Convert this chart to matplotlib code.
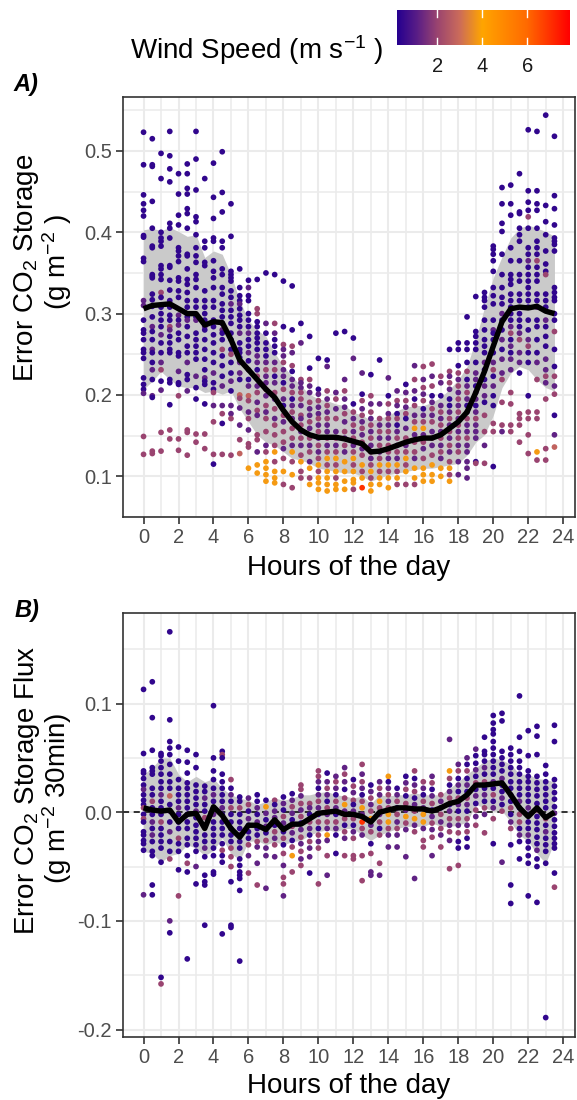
import numpy as np
import matplotlib
matplotlib.use('Agg')
import matplotlib.pyplot as plt
from matplotlib.colors import LinearSegmentedColormap, Normalize

plt.rcParams['font.family'] = ['Liberation Sans', 'DejaVu Sans']
plt.rcParams['mathtext.fontset'] = 'custom'
plt.rcParams['mathtext.rm'] = 'Liberation Sans'
plt.rcParams['mathtext.it'] = 'Liberation Sans:italic'
plt.rcParams['mathtext.bf'] = 'Liberation Sans:bold'

# ---------------- data ----------------
HOURS = np.arange(0, 24, 0.5)          # 48 half-hour bins
X_TICKS = [0, 2, 4, 6, 8, 10, 12, 14, 16, 18, 20, 22, 24]
A_YTICKS = [0.1, 0.2, 0.3, 0.4, 0.5]
B_YTICKS = [-0.2, -0.1, 0.0, 0.1]
WIND_TICKS = [2, 4, 6]
WIND_RANGE = (0.22, 7.9)

WIND_CODES = {'b': 0.4, 'p': 1.2, 'm': 2.0, 's': 2.8, 'o': 3.8, 'r': 7.0}

# Panel A points, one string per half hour: value in 1/1000 g m-2 + wind code
A_POINTS = [
    "523b 483b 446b 435b 427b 420b 396b 394b 368b 364b 316p 310p 292b 280b 276b 268b 256b 252b 245b 221b 213b 207b 202p 149m 127m",
    "515b 483b 481b 438b 405b 383b 381b 348b 346b 344b 324b 317b 309b 296b 284p 278b 268b 256p 252b 240b 231p 219b 199p 197b 131m 128m",
    "497b 466b 400b 393b 389b 383b 359b 355b 348b 342b 326m 320b 308b 300b 292b 284b 274p 264b 252b 240p 231m 217b 206p 154m 131m",
    "524b 494b 478b 462b 411b 405b 393b 359b 357b 341b 329b 316b 308b 298b 292b 284m 280p 272b 264b 256b 252b 219b 215b 188b 157m 146m",
    "472b 447b 421b 409b 381b 377b 371b 364b 344b 340b 328b 320b 298p 292b 286p 276b 268b 252b 248b 229p 215b 213b 199m 146m 132m",
    "484b 472b 454b 447b 429b 423b 405b 373b 371b 355b 342b 336b 326b 316b 308b 296b 292p 284b 272b 260b 252b 240p 225b 219b 205p 157m 154m 126m",
    "524b 490b 452b 419b 413b 397b 381b 371b 363b 348b 342b 332b 316b 308b 296b 292p 276b 268b 260b 252b 244b 223p 209b 195b 152m 142m",
    "466b 389b 381b 363b 359b 328b 316b 308b 300b 292b 284p 280b 268b 256b 244b 231b 221p 217b 213b 189b 152m 134m",
    "485b 443b 417b 393b 389b 365b 352b 344b 332b 316b 308b 292b 284b 274b 264b 252b 240b 227p 215b 207b 203m 187p 167m 127m 115b",
    "499b 449b 425b 389b 381b 355b 348b 332b 324b 312b 304b 296b 288b 280p 276b 268b 256m 248b 236b 223b 211p 187p 177m 165b 127m",
    "435b 395b 352b 348b 344b 340b 328b 320b 312p 304b 296b 288b 276b 268b 256b 250m 240b 227b 217p 205b 187p 177p 171m 126m",
    "355b 332b 322b 316b 312p 306b 298b 292b 284b 276p 264b 256b 252b 246b 240p 227p 219b 200s 196m 184p 163p 145m 128s",
    "341b 332p 322b 316b 300b 292b 284b 276p 268b 260b 252p 242b 231p 219b 211p 199s 193m 179p 171m 157p 140m 136m 110o",
    "342b 306m 300m 290b 284b 276b 270b 264b 256b 248p 240p 231b 223m 211p 203m 191p 181m 175p 151m 145m 130p 114o 104o",
    "350b 288p 276b 264b 256b 248b 240p 231m 223p 215p 207m 199p 187m 179p 171m 155m 138p 130m 118o 110o 102o 094o",
    "348b 288m 276p 268b 260b 252b 240p 231m 223b 215p 203m 195p 183m 171p 163m 151m 138m 130o 118m 106o 098o 092o",
    "340b 284b 262m 256p 248p 240m 231p 223p 215b 207m 195p 187b 175m 167p 155m 142m 134p 122m 106o 090m",
    "334b 280b 260m 252p 236m 229b 219p 211p 203m 195b 187p 179m 171p 159m 147m 138p 130o 118m 102o 086m",
    "288b 264p 219m 215p 209p 203m 195m 187p 175m 171p 163m 155p 147m 138p 126m 118o 106m 098m",
    "272b 233b 219m 211p 203p 191m 183p 175p 167m 159p 147m 138p 130m 118p 110o 098m 090o",
    "245b 207b 201p 193m 185p 177p 171m 163p 155m 147p 138m 130p 122m 114o 106m 098o 092o 084o",
    "243b 235p 205m 195p 187m 179p 171m 163p 155p 147m 138p 130m 122o 114m 106o 098o 090o 082o",
    "276b 203p 195m 183p 171m 155p 147m 138p 130m 122o 114m 106o 098m 090o 084o",
    "278b 219p 205m 195p 185p 177m 167p 155m 147p 138m 130p 118o 106o 094o 084o",
    "270b 245p 189b 179m 171p 163m 155p 147m 138p 130m 122o 114m 106o 096o 092o 084m",
    "227p 201b 193m 183p 175m 167p 159m 151p 142m 134p 126m 114o 106m 098o 086r",
    "225b 199m 189p 179m 171p 163m 155p 147m 138p 130m 122p 114m 106o 098m 090o 082o",
    "243b 189p 171m 163p 155m 147p 138m 130p 122m 114o 106m 098o 090o",
    "221p 199b 189m 177p 171m 163p 155m 147p 138m 130m 122p 114o 106m 098o 086o",
    "205p 193m 187p 177b 171m 163b 155p 147m 138p 130m 122p 114o 106m 098o 090m",
    "213b 203p 193m 185p 177m 171b 159p 147m 138p 130m 122o 114m 106o 090m",
    "236p 219m 205p 195b 187m 175p 167m 159o 151p 142m 130m 122p 110o 098o 090m",
    "235m 219p 209m 201p 193m 183b 175p 167m 159o 151p 142m 134p 122m 110o 102o 094o",
    "238m 223p 211m 199b 191p 183m 175p 167m 155p 147m 138p 126m 114o 102o 094o",
    "223m 215p 199b 187p 179m 171p 163m 155p 147m 138p 130m 122p 110o 100o",
    "256b 229m 223p 215m 207p 195b 187b 179p 171m 163p 155m 147p 138m 130p 118m 110o 102m 094o",
    "264b 256b 236b 227m 219p 211m 203p 195m 187p 179m 171p 163m 155p 147m 138p 130m 118p 102p",
    "296b 264b 256b 240b 229m 219b 211p 203m 195p 187b 179p 171m 163p 155p 147m 138p 130p 118p 110p 098p",
    "321b 278b 272b 264b 256b 240b 227p 219p 211b 203p 195p 187b 179p 171m 163p 155p 147p 118b 116m",
    "326b 320b 316b 308b 292b 280b 268b 260b 252b 240p 231b 219b 211p 199p 191b 175m 155m 138p 116m",
    "383b 379b 373b 365b 352b 332b 322b 312b 292b 280p 276b 268b 252b 240p 231m 223b 211p 199b 187b 165m 155m 112b",
    "455b 435b 411b 401b 373b 348b 332b 320b 312b 300p 292b 280b 268p 256b 244p 227p 219m 191m 163m 155p",
    "458b 435b 421b 381b 365b 348b 342b 336b 324b 316b 308b 300b 292b 284p 276m 268b 260p 252b 244p 231p 203m 189m 163m 155m",
    "472b 425b 423b 405b 397b 389b 365b 348b 340b 324b 316b 300b 292b 284b 276p 268m 252p 240p 227b 177m 171m 163m 142m",
    "526b 451b 437b 427b 419m 405b 381b 373b 365p 357b 348b 340b 332b 324b 316b 308b 292b 280b 268p 260m 252b 240b 199b 179m 171m 151m 128m",
    "524b 451b 435b 427b 405b 389b 381b 373b 365m 357b 348b 340b 324b 316b 308p 292b 284b 268b 252b 240p 219m 179m 171m 130o 120m",
    "544b 433b 413b 397b 377b 361b 352b 348m 324b 316b 308b 292p 284b 272b 260b 244p 231p 223m 215p 195m 134m 120m",
    "518b 445b 429b 409b 393b 389b 385b 377b 332b 326b 320b 316b 300b 292b 278m 256b 235b 223m 211p 201m 175b 151p 136s",
]
A_MEAN = [.306, .310, .311, .312, .306, .300, .300, .286, .290, .289, .268, .243, .231, .219, .207, .197,
          .181, .167, .157, .151, .148, .148, .148, .146, .143, .140, .130, .131, .134, .138, .142, .145,
          .147, .147, .151, .159, .167, .179, .203, .229, .260, .290, .306, .308, .307, .309, .303, .300]
A_HI = [.403, .405, .402, .406, .401, .395, .397, .369, .377, .373, .348, .316, .292, .280, .272, .252,
        .235, .223, .211, .201, .195, .193, .189, .187, .179, .175, .169, .171, .175, .181, .185, .187,
        .187, .191, .197, .207, .219, .235, .268, .308, .344, .370, .393, .405, .409, .405, .401, .395]
A_LO = [.207, .217, .229, .219, .211, .209, .209, .203, .205, .201, .205, .183, .167, .151, .142, .138,
        .130, .122, .120, .116, .110, .108, .106, .104, .104, .100, .094, .098, .102, .104, .106, .108,
        .110, .110, .112, .114, .116, .126, .142, .151, .175, .209, .227, .235, .231, .219, .209, .205]

# Panel B points: value in 1/1000 g m-2 30min + wind code
B_POINTS = [
    "113b 054b 038b 036b 031b 025b 021p 016b 011b 007b 004m -002b -006m -009b -018b -021b -026b -029b -035b -076p",
    "120b 087b 057b 041b 038b 035b 022b 016b 010m 004b -002b -009p -015b -021p -027b -036b -040b -067b -076b",
    "054b 052b 047b 041b 035b 028b 022b 016p 010b 004b -002b -009m -015b -021b -027b -033b -046b -152b -158m",
    "166b 085b 065b 059b 053b 044b 035b 028b 022b 015s 007b 001p -009b -018p -027b -036b -043m -100p -111b",
    "060b 047b 030b 022b 016b 010b 004p -002b -009b -015b -024m -029b -036b -053b -077m",
    "057b 046b 036b 027b 022b 016b 010b 004b -002b -009b -015b -024b -030b -040b -047m -055b -135b",
    "053b 041b 025b 019b 013b 007b 001p -005b -012b -018b -024b -030b -036b -050p -066b",
    "024b 019b 013p 007b 001b -005m -012b -021b -027b -033p -041b -058b -064b -067b -104b",
    "098b 050b 038b 030b 022b 016p 010b 004b -002p -009b -015b -021b -027b -033b -040b -055b -057b",
    "056b 053m 050b 035b 028b 022b 016b 010b 004p -002b -009b -015b -021b -029b -035m -040b -046b -112b",
    "030m 022b 016p 010b 004m -002b -009b -015b -021b -027b -033m -041m -050m -064b -104b -106b",
    "014b 010b 004m -002b -009b -015b -021p -027b -033b -043b -049b -055b -058b -061b -072b -137b",
    "013p 007m 001b -006p -012b -018b -024b -030m -040p -056m",
    "016b 010b 004p -002b -009p -015b -021b -027m -032p -047p -067m",
    "011b 005o -001p -007b -013p -019b -026m -033p -040p -070p",
    "011m 007b 001p -005p -012b -018m -024p -030m -041p",
    "014b 008p 002b -004m -010p -018b -024m -030b -038m -049p -060m -066m -077p",
    "017b 011p 005m -001p -007b -013m -019p -026b -032m -040o -055m",
    "025m 021m 015p 008m 002p -004m -010b -016p -023m -029p -036m -043p -049m",
    "008m 004p -002b -009m -015p -021b -027m -033p -041p -056b",
    "038m 033m 028p 022b 016p 010m 004p -002b -009m -015b -021m -027p -033m -066m",
    "036b 028p 022m 016p 010b 004m -002p -009m -015p -021o -026p -040m -058p",
    "033p 028m 022p 016b 010m 004p -002b -009m -015p -021b -038b",
    "041p 035m 028p 021b 013m 007o 001p -006m -012b -018m -024p -040m",
    "030b 024m 018p 011m 007b 001p -006m -012b -018p -024m -040m -043m",
    "044m 035p 028m 022p 016b 010m 004o -002p -009r -015m -021p -040m -063m",
    "025b 019p 013m 007p 001m -006o -012p -018m -029b -038m -055p -058p",
    "028p 022m 016p 010o 004m -002p -009m -015b -021m -047m -058p",
    "033o 028b 022p 016m 010p 004m -002o -009o -015m -021p -032p",
    "022b 016p 010m 004b -002m -009p -015m -021p -032p",
    "033b 027p 021m 015b 008m 002p -004o -010m -016p -041p",
    "038m 031b 025p 019m 013b 007p 001m -006o -012p -018m -061p",
    "028m 022p 016b 010m 004p -002o -009o -015p -026m -032m",
    "033p 027m 021b 015p 008m 002b -004p -010m -016p -023m -040p",
    "016m 010p 004b -002m -009p -015m -021p -032m",
    "067p 038o 031m 025b 019p 013m 007b 001p -006m -012p -018m -026p -052m",
    "044p 038m 031b 025p 019b 013m 007p 001b -006m -012p -019m -027b -033b -049m",
    "050p 044b 038m 031b 025p 019b 013m 007p 001b -006m -012p -018m -024b -032b",
    "058p 052b 045b 039p 033b 027m 021b 015p 008b 002m -004p -012m",
    "069b 056b 053b 047b 041p 035b 028m 022b 016p 010b 004m -002p -019m",
    "089b 082b 076b 072b 065b 059b 053b 047b 041b 035b 028p 022b 016m 010b 004p -006m -029b",
    "091b 084b 056b 050b 044b 038b 031p 025b 019b 013p 007b 001m -046p",
    "059b 053b 047b 041b 035b 028b 022b 016p 010b 004m -002b -009p -015m -030b -067b -084b",
    "107b 069b 056b 047b 041b 035b 028b 022b 016b 010p 004b -002m -009m -015b -021p -027b -043b",
    "075b 052b 038b 033b 028b 022b 016b 010b 004p -002b -009b -015b -021p -027b -033b -040b -047b -077b",
    "079b 070b 053b 033b 027b 021b 015b 008b 002m -004b -010b -016b -023b -029b -035p -043b -050b -083b",
    "043b 035b 028b 022b 016b 010b 004b -006m -012b -018p -024b -030b -036b -047b -189b",
    "080b 065b 030b 024b 018b 012b 005b -001p -007b -013b -019b -024b -029b -033b -056b -069m",
]
B_MEAN = [.004, .002, .001, .002, -.009, -.002, -.001, -.015, .005, -.003, -.015, -.023, -.012, -.012, -.016, -.007,
          -.016, -.011, -.011, -.006, -.001, .000, .001, -.002, -.002, -.004, -.009, .000, .002, .004, .004, .003,
          .003, .001, .004, .008, .010, .016, .025, .025, .026, .027, .016, .004, -.004, .004, -.005, .000]
B_HI = [.035, .041, .050, .050, .035, .028, .033, .028, .031, .022, .016, .013, .011, .007, .010, .013,
        .011, .013, .016, .016, .018, .019, .016, .015, .013, .015, .008, .016, .015, .016, .016, .018,
        .016, .016, .016, .022, .028, .035, .041, .047, .050, .048, .044, .035, .035, .031, .030, .028]
B_LO = [-.036, -.038, -.046, -.040, -.038, -.030, -.033, -.040, -.035, -.024, -.038, -.044, -.027, -.026, -.030, -.027,
        -.030, -.027, -.026, -.021, -.018, -.016, -.018, -.015, -.015, -.021, -.026, -.021, -.018, -.015, -.013, -.013,
        -.013, -.010, -.013, -.013, -.012, -.009, .007, .004, .001, .001, -.009, -.021, -.027, -.038, -.047, -.027]


def parse(columns):
    xs, ys, ws = [], [], []
    for h, s in zip(HOURS, columns):
        for tok in s.split():
            xs.append(h)
            ys.append(int(tok[:-1]) / 1000.0)
            ws.append(WIND_CODES[tok[-1]])
    return np.array(xs), np.array(ys), np.array(ws)


# ---------------- style ----------------
W, H = 577, 1100
vmin, vmax = WIND_RANGE


def pos(v):
    return (v - vmin) / (vmax - vmin)


cmap = LinearSegmentedColormap.from_list(
    'wind', [(0.0, '#26008f'), (pos(1.1), '#5a1e86'), (pos(2.0), '#9a4470'), (pos(3.0), '#cc6c5a'),
             (pos(4.0), '#ffa500'), (pos(6.0), '#ff6a00'), (1.0, '#ff0000')])
norm = Normalize(vmin=vmin, vmax=vmax)

TICK_FS = 14.5
TITLE_FS = 20
GRID_C = '#ebebeb'
FRAME_C = '#333333'
PT_SIZE = 17


def px(x):
    return x / W


def py(y):
    return 1 - y / H


fig = plt.figure(figsize=(W / 100, H / 100), dpi=100)
axA = fig.add_axes([px(123), py(517), px(575) - px(123), py(97) - py(517)])
axB = fig.add_axes([px(123), py(1036.5), px(575) - px(123), py(613) - py(1036.5)])


def style_axis(ax, yticks, yminor, ylim):
    ax.set_xlim(-1.175, 24.675)
    ax.set_ylim(*ylim)
    ax.set_xticks(X_TICKS)
    ax.set_xticks(np.arange(1, 24, 2), minor=True)
    ax.set_yticks(yticks)
    ax.set_yticks(yminor, minor=True)
    ax.set_axisbelow(True)
    ax.grid(which='major', color=GRID_C, lw=1.5, zorder=0)
    ax.grid(which='minor', color=GRID_C, lw=1.1, zorder=0)
    ax.tick_params(which='major', length=5, width=1.2, color=FRAME_C, labelsize=TICK_FS,
                   labelcolor='#4d4d4d', pad=3)
    ax.tick_params(which='minor', length=0)
    for sp in ax.spines.values():
        sp.set_color(FRAME_C)
        sp.set_linewidth(1.2)


# Panel A
xa, ya, wa = parse(A_POINTS)
axA.fill_between(HOURS, A_LO, A_HI, color='#cacaca', lw=0, zorder=1)
axA.scatter(xa, ya, c=wa, cmap=cmap, norm=norm, s=PT_SIZE, linewidths=0, zorder=2)
axA.plot(HOURS, A_MEAN, color='black', lw=3.9, zorder=3, solid_capstyle='butt')
style_axis(axA, A_YTICKS, [0.05, 0.15, 0.25, 0.35, 0.45, 0.55], (0.0572, 0.5663))
axA.set_yticklabels(['0.1', '0.2', '0.3', '0.4', '0.5'])

# Panel B
xb, yb, wb = parse(B_POINTS)
axB.fill_between(HOURS, B_LO, B_HI, color='#cacaca', lw=0, zorder=1)
axB.axhline(0, color='black', lw=1.1, ls=(0, (4, 3)), zorder=1.5)
axB.scatter(xb, yb, c=wb, cmap=cmap, norm=norm, s=PT_SIZE, linewidths=0, zorder=2)
axB.plot(HOURS, B_MEAN, color='black', lw=3.9, zorder=3, solid_capstyle='butt')
style_axis(axB, B_YTICKS, [-0.15, -0.05, 0.05, 0.15], (-0.2064, 0.1833))
axB.set_yticklabels(['-0.2', '-0.1', '0.0', '0.1'])

# axis titles
for yc in (568, 1086):
    fig.text(px(349), py(yc), 'Hours of the day', ha='center', va='center', fontsize=TITLE_FS)

fig.text(px(27), py(268), r'Error CO$_2$ Storage', rotation=90, ha='center', va='center', fontsize=TITLE_FS)
fig.text(px(57), py(262), r'(g m$^{-2}$ )', rotation=90, ha='center', va='center', fontsize=TITLE_FS)
fig.text(px(27), py(790), r'Error CO$_2$ Storage Flux', rotation=90, ha='center', va='center', fontsize=TITLE_FS)
fig.text(px(57), py(798), r'(g m$^{-2}$ 30min)', rotation=90, ha='center', va='center', fontsize=TITLE_FS)

fig.text(px(26), py(84), 'A)', ha='center', va='center', fontsize=17, fontweight='bold', fontstyle='italic')
fig.text(px(27), py(610), 'B)', ha='center', va='center', fontsize=17, fontweight='bold', fontstyle='italic')

# colour bar legend
cax = fig.add_axes([px(397), py(45), px(570) - px(397), py(10) - py(45)])
grad = np.linspace(vmin, vmax, 400).reshape(1, -1)
cax.imshow(grad, aspect='auto', cmap=cmap, norm=norm, extent=[vmin, vmax, 0, 1])
for t in WIND_TICKS:
    cax.plot([t, t], [0, 0.2], color='white', lw=1)
    cax.plot([t, t], [0.8, 1], color='white', lw=1)
cax.set_xlim(vmin, vmax)
cax.set_ylim(0, 1)
cax.axis('off')
for t in WIND_TICKS:
    fig.text(px(397 + (t - vmin) / (vmax - vmin) * 173), py(66), str(t), ha='center', va='center',
             fontsize=TICK_FS, color='#1a1a1a')
fig.text(px(383), py(59), r'Wind Speed (m s$^{-1}$ )', ha='right', va='baseline', fontsize=TITLE_FS)

fig.savefig('out.png', dpi=100)
